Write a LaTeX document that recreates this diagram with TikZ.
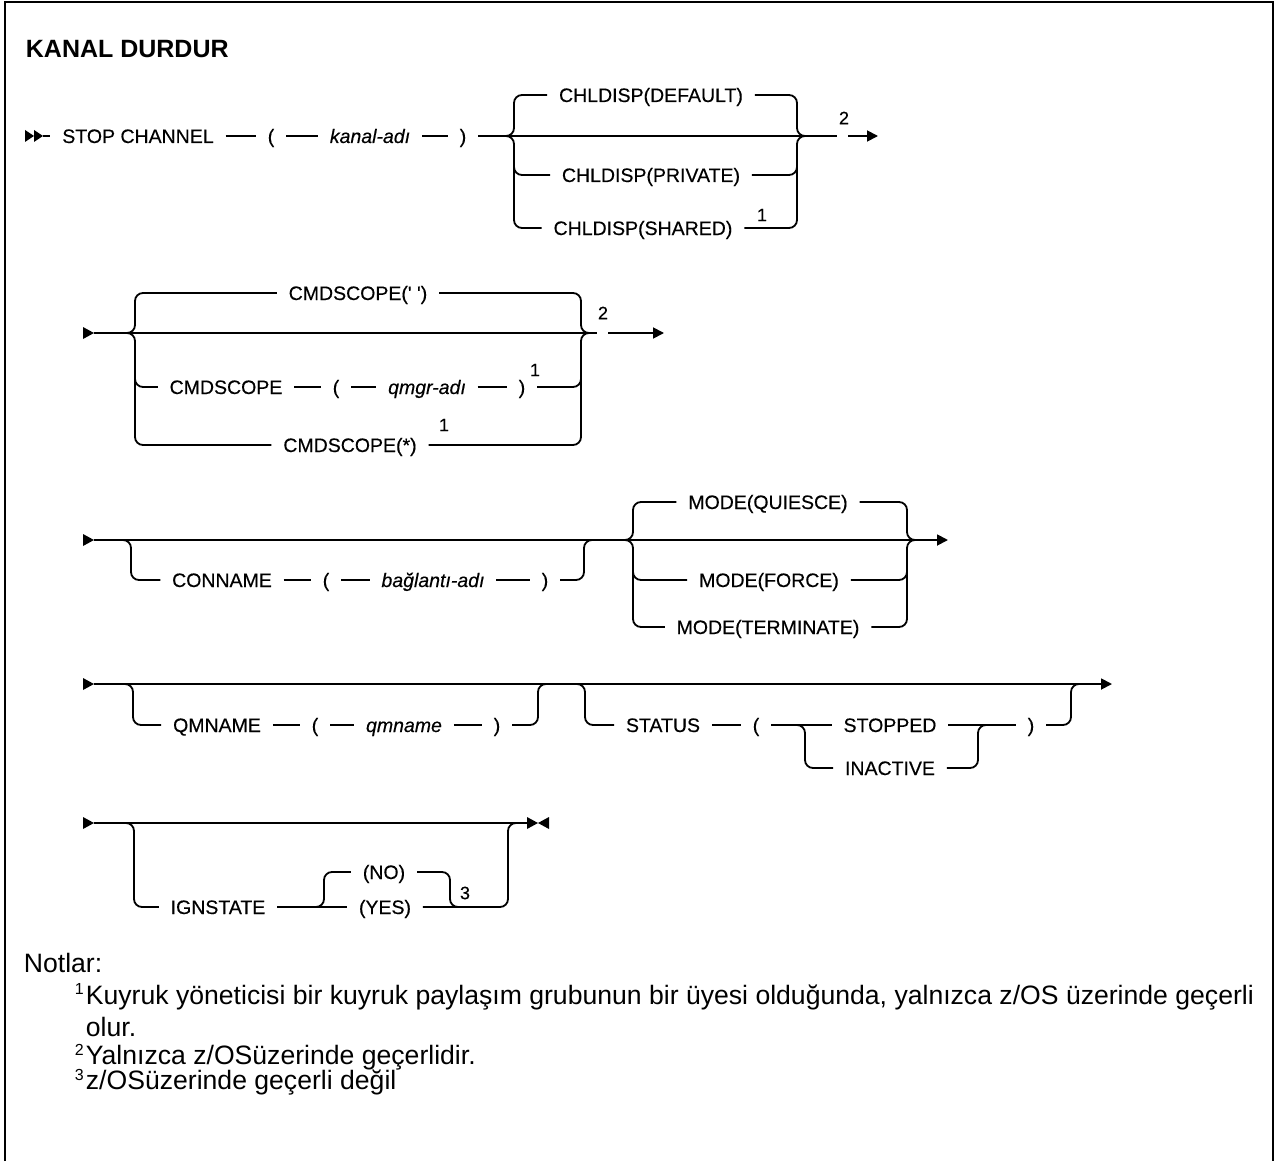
\documentclass[tikz,border=0pt]{standalone}
\usepackage{fontspec}
\setmainfont{Liberation Sans}
\newfontfamily\diagfont{Liberation Sans}[FakeBold=0.35]
\usetikzlibrary{arrows.meta}
\begin{document}
\begin{tikzpicture}[x=1pt,y=-1pt,
  line width=1.8pt,
  rc/.style={rounded corners=8pt},
  kw/.style={font=\diagfont\fontsize{19.5}{23}\selectfont, inner xsep=11pt, inner ysep=0pt, text height=14pt, text depth=0pt, anchor=center},
  var/.style={kw, font=\diagfont\fontsize{19.5}{23}\selectfont\itshape},
  sup/.style={font=\diagfont\fontsize{18}{20}\selectfont, inner sep=0pt},
  note/.style={font=\fontsize{26.6}{32}\selectfont, inner sep=0pt, anchor=base west},
  nsup/.style={font=\fontsize{16}{18}\selectfont, inner sep=0pt, anchor=base west},
  endarrow/.style={-{Triangle[length=11pt,width=11pt]}},
]
\useasboundingbox (0,0) rectangle (1276,1161);
% frame
\draw[line width=2.5pt] (5,1161) -- (5,2) -- (1273,2) -- (1273,1161);
% title
\node[font=\bfseries\fontsize{25}{30}\selectfont, anchor=base west, inner sep=0pt] (title) at (25,58) {KANAL DURDUR};

% ---------- Row 1 ----------
\fill (25,130) -- (34,136) -- (25,142) -- cycle;
\fill (34,130) -- (43,136) -- (34,142) -- cycle;
\coordinate (s1) at (43,136);
\node[kw] (stop) at (138,136) {STOP CHANNEL};
\node[kw] (lp1) at (271,136) {(};
\node[var] (kan) at (370,136) {kanal-adı};
\node[kw] (rp1) at (463,136) {)};
\draw (s1) -- (stop.west);
\draw (stop.east) -- (lp1.west);
\draw (lp1.east) -- (kan.west);
\draw (kan.east) -- (rp1.west);
\coordinate (j1) at (837,136);
\draw (rp1.east) -- (j1);
\node[kw] (def) at (651,95) {CHLDISP(DEFAULT)};
\node[kw] (pri) at (651,175) {CHLDISP(PRIVATE)};
\node[kw] (sha) at (643,228) {CHLDISP(SHARED)};
\node[sup] (n1a) at (762,215) {1};
\draw[rc] (506,136) -- (514,136) -- (514,95) -- (def.west);
\draw[rc] (def.east) -- (797,95) -- (797,136) -- (805,136);
\draw[rc] (506,136) -- (514,136) -- (514,228) -- (sha.west);
\draw[rc] (sha.east) -- (797,228) -- (797,136) -- (805,136);
\draw[rc] (514,160) -- (514,175) -- (pri.west);
\draw[rc] (pri.east) -- (797,175) -- (797,160);
\node[sup] (f1) at (844,118) {2};
\coordinate (a1) at (848,136);
\coordinate (e1) at (878,136);
\draw[endarrow] (a1) -- (e1);

% ---------- Row 2 ----------
\fill (83,327) -- (94,333) -- (83,339) -- cycle;
\coordinate (s2) at (94,333);
\coordinate (j2) at (597,333);
\draw (s2) -- (j2);
\node[kw] (cs1) at (358,293) {CMDSCOPE(\textquotesingle{} \textquotesingle)};
\node[kw] (cs2) at (226,387) {CMDSCOPE};
\node[kw] (lp2) at (336,387) {(};
\node[var] (qmg) at (427,387) {qmgr-adı};
\node[kw] (rp2) at (522,387) {)};
\node[sup] (n2a) at (535,370) {1};
\node[kw] (cs3) at (350,445) {CMDSCOPE(*)};
\node[sup] (n2b) at (444,425) {1};
\draw[rc] (127,333) -- (135,333) -- (135,293) -- (cs1.west);
\draw[rc] (cs1.east) -- (581,293) -- (581,333) -- (589,333);
\draw[rc] (127,333) -- (135,333) -- (135,445) -- (cs3.west);
\draw[rc] (cs3.east) -- (581,445) -- (581,333) -- (589,333);
\draw[rc] (135,370) -- (135,387) -- (cs2.west);
\draw (cs2.east) -- (lp2.west);
\draw (lp2.east) -- (qmg.west);
\draw (qmg.east) -- (rp2.west);
\draw[rc] (rp2.east) -- (581,387) -- (581,370);
\node[sup] (f2) at (603,313) {2};
\coordinate (a2) at (608,333);
\coordinate (e2) at (664,333);
\draw[endarrow] (a2) -- (e2);

% ---------- Row 3 ----------
\fill (83,534) -- (94,540) -- (83,546) -- cycle;
\coordinate (s3) at (94,540);
\coordinate (e3) at (948,540);
\draw[endarrow] (s3) -- (e3);
\node[kw] (con) at (222,580) {CONNAME};
\node[kw] (lp3) at (326,580) {(};
\node[var] (bag) at (433,580) {bağlantı-adı};
\node[kw] (rp3) at (545,580) {)};
\draw[rc] (123,540) -- (131,540) -- (131,580) -- (con.west);
\draw (con.east) -- (lp3.west);
\draw (lp3.east) -- (bag.west);
\draw (bag.east) -- (rp3.west);
\draw[rc] (rp3.east) -- (584,580) -- (584,540) -- (592,540);
\node[kw] (qui) at (768,502) {MODE(QUIESCE)};
\node[kw] (frc) at (769,580) {MODE(FORCE)};
\node[kw] (ter) at (768,627) {MODE(TERMINATE)};
\draw[rc] (625,540) -- (633,540) -- (633,502) -- (qui.west);
\draw[rc] (qui.east) -- (907,502) -- (907,540) -- (915,540);
\draw[rc] (625,540) -- (633,540) -- (633,627) -- (ter.west);
\draw[rc] (ter.east) -- (907,627) -- (907,540) -- (915,540);
\draw[rc] (633,560) -- (633,580) -- (frc.west);
\draw[rc] (frc.east) -- (907,580) -- (907,560);

% ---------- Row 4 ----------
\fill (83,678) -- (94,684) -- (83,690) -- cycle;
\coordinate (s4) at (94,684);
\coordinate (e4) at (1112,684);
\draw[endarrow] (s4) -- (e4);
\node[kw] (qmn) at (217,725) {QMNAME};
\node[kw] (lp4) at (315,725) {(};
\node[var] (qmv) at (404,725) {qmname};
\node[kw] (rp4) at (497,725) {)};
\draw[rc] (125,684) -- (133,684) -- (133,725) -- (qmn.west);
\draw (qmn.east) -- (lp4.west);
\draw (lp4.east) -- (qmv.west);
\draw (qmv.east) -- (rp4.west);
\draw[rc] (rp4.east) -- (538,725) -- (538,684) -- (546,684);
\node[kw] (sta) at (663,725) {STATUS};
\node[kw] (lp5) at (756,725) {(};
\node[kw] (stp) at (890,725) {STOPPED};
\node[kw] (ina) at (890,768) {INACTIVE};
\node[kw] (rp5) at (1031,725) {)};
\draw[rc] (577,684) -- (585,684) -- (585,725) -- (sta.west);
\draw (sta.east) -- (lp5.west);
\draw (lp5.east) -- (stp.west);
\draw (stp.east) -- (rp5.west);
\draw[rc] (797,725) -- (805,725) -- (805,768) -- (ina.west);
\draw[rc] (ina.east) -- (978,768) -- (978,725) -- (986,725);
\draw[rc] (rp5.east) -- (1071,725) -- (1071,684) -- (1079,684);

% ---------- Row 5 ----------
\fill (83,817) -- (94,823) -- (83,829) -- cycle;
\coordinate (s5) at (94,823);
\coordinate (e5) at (527,823);
\draw (s5) -- (e5);
\fill (527,817) -- (538,823) -- (527,829) -- cycle;
\fill (549,817) -- (538,823) -- (549,829) -- cycle;
\node[kw] (ign) at (218,907) {IGNSTATE};
\node[kw] (no) at (384,872) {(NO)};
\node[kw] (yes) at (385,907) {(YES)};
\node[sup] (n3) at (465,893) {3};
\draw[rc] (126,823) -- (134,823) -- (134,907) -- (ign.west);
\draw (ign.east) -- (yes.west);
\draw[rc] (316,907) -- (324,907) -- (324,872) -- (no.west);
\draw[rc] (no.east) -- (450,872) -- (450,907) -- (458,907);
\draw[rc] (yes.east) -- (508,907) -- (508,823) -- (516,823);

% ---------- Notes ----------
\node[note] (notlar) at (23,972) {Notlar:};
\node[nsup] (ns1) at (74,994) {1};
\node[note] (nt1) at (85,1004) {Kuyruk yöneticisi bir kuyruk paylaşım grubunun bir üyesi olduğunda, yalnızca z/OS üzerinde geçerli};
\node[note] (nt1b) at (85,1036) {olur.};
\node[nsup] (ns2) at (74,1055) {2};
\node[note] (nt2) at (85,1064) {Yalnızca z/OSüzerinde geçerlidir.};
\node[nsup] (ns3) at (74,1080) {3};
\node[note] (nt3) at (85,1089) {z/OSüzerinde geçerli değil};
\end{tikzpicture}
\end{document}
